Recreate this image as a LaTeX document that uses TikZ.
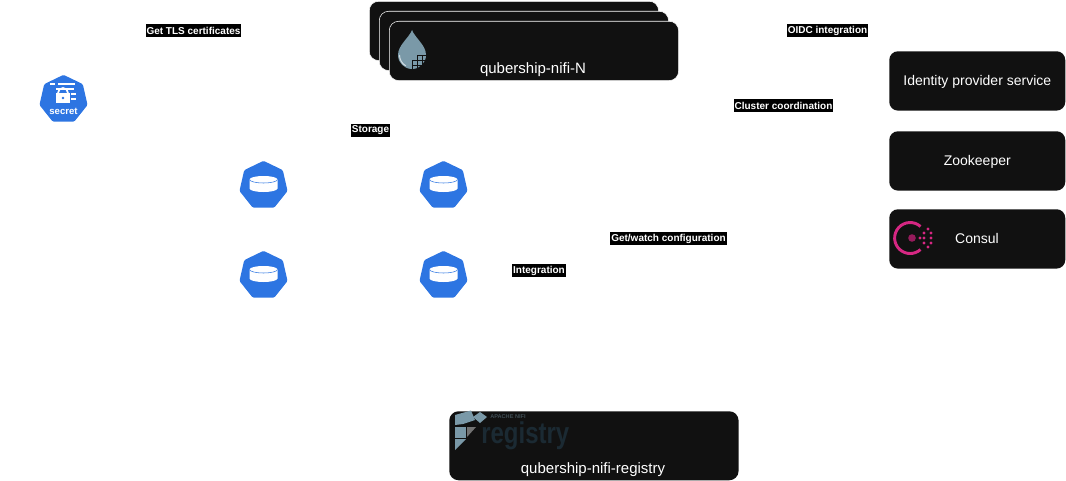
\documentclass[tikz,border=0pt]{standalone}
\usepackage{fontspec}
\setmainfont{Liberation Sans}
\usetikzlibrary{arrows.meta,calc,positioning,shapes.geometric}
\definecolor{boxdark}{HTML}{111111}
\definecolor{kubeblue}{HTML}{2D75E2}
\definecolor{nifiblue}{HTML}{7A99A8}
\definecolor{regdark}{HTML}{1B2A33}
\definecolor{consulpink}{HTML}{D62783}
\tikzset{
    serverbox/.style={draw=white,fill=boxdark,rounded corners=7pt,minimum width=217pt,minimum height=44.5pt,inner sep=0pt,anchor=north west},
    extbox/.style={fill=boxdark,rounded corners=6.5pt,minimum width=132pt,minimum height=44.5pt,inner sep=0pt,anchor=north west,text=white,text depth=0.5pt,font=\fontsize{10.5}{12}\selectfont},
    boxtitle/.style={text=white,inner sep=0pt,font=\fontsize{11.25}{13}\selectfont},
    edgelabel/.style={fill=black,text=white,inner xsep=0.75pt,inner ysep=0pt,minimum height=9.75pt,font=\bfseries\fontsize{7.5}{9}\selectfont},
    kubehept/.style={regular polygon,regular polygon sides=7,fill=kubeblue,minimum size=37pt,inner sep=0pt,rounded corners=1pt},
    pics/volume/.style={code={
        \fill[white] (-14,-6) -- (-14,3) arc[x radius=14,y radius=3.5,start angle=180,end angle=0] -- (14,-6)
            arc[x radius=14,y radius=3.5,start angle=0,end angle=-180] -- cycle;
        \draw[kubeblue,line width=0.4pt] (-14,-6) arc[x radius=14,y radius=3.5,start angle=180,end angle=0];
    }},
    pics/nifidrop/.style={code={
        \fill[nifiblue] (0,-17) .. controls (3,-9) and (14,-2) .. (14,8) arc[radius=14,start angle=0,end angle=180]
            .. controls (-14,-2) and (-3,-9) .. (0,-17) -- cycle;
        \draw[white!65!nifiblue,line width=0.8pt] (-12.5,8) arc[radius=12.5,start angle=180,end angle=120];
        \foreach \gx/\gy in {5/8,10/8,0/13,5/13,10/13,0/18,5/18} {
            \draw[boxdark,line width=0.7pt] (\gx,\gy) rectangle ++(5,5);
        }
    }},
}
\begin{document}
\begin{tikzpicture}[x=0.75pt,y=-0.75pt]
    % Page
    \useasboundingbox (0,0) rectangle (1066,481);
    % Stacked servers
    \node[serverbox] (nifiA) at (369,1) {};
    \node[serverbox] (nifiB) at (379,11) {};
    \node[serverbox] (nifiN) at (389,21) {};
    \pic at (412,47) {nifidrop};
    \node[boxtitle] (nifiNtitle) at (533,70) {qubership-nifi-N};
    % Registry
    \node[serverbox,draw=none,minimum height=51.75pt] (registry) at (449,411) {};
    \fill[nifiblue] (455,415) -- (471,410.5) -- (475,420) -- (463,424) -- (455,425) -- cycle;
    \fill[nifiblue] (473,417) -- (480,412) -- (487,417) -- (480,423) -- cycle;
    \fill[nifiblue] (455,427) rectangle (466,438);
    \fill[nifiblue] (455,439) -- (466,439) -- (455,450) -- cycle;
    \fill[black!55] (467,427) -- (476,427) -- (467,437) -- cycle;
    \node[text=nifiblue!45!boxdark,inner sep=0pt,anchor=west,font=\bfseries\fontsize{4.2}{5}\selectfont] (regsmall) at (490,417) {APACHE NIFI};
    \node[text=regdark,inner sep=0pt,anchor=base west,font=\bfseries\fontsize{22.5}{24}\selectfont] (regword) at (481,443) {\scalebox{0.8}[1]{registry}};
    \node[boxtitle] (registrytitle) at (593,470) {qubership-nifi-registry};
    % External services
    \node[extbox] (idp) at (889,51) {Identity provider service};
    \node[extbox] (zookeeper) at (889,131) {Zookeeper};
    \node[extbox] (consul) at (889,209) {};
    \node[extbox,fill=none,minimum width=0pt,minimum height=0pt,anchor=center] (consultitle) at (977,238.5) {Consul};
    \draw[consulpink,line width=2.2pt] (920.5,226.5) arc[radius=15.5,start angle=-48,end angle=-312];
    \fill[consulpink!70!black] (912,238) circle (3.8);
    \foreach \dx/\dy in {920/238,928/229,924/233,931/233,924/238,931/238,924/243,931/243,928/247} {
        \fill[consulpink] (\dx,\dy) circle (1.6);
    }
    % Secret
    \node[kubehept] (secret) at (63.5,99.5) {};
    \draw[white,line width=0.8pt] (50,84) -- (55,84) (58,84) -- (75,84) (56,89) -- (74,89) (71,94) -- (76,94) (71,99) -- (76,99);
    \draw[white,line width=1.3pt] (58,93) arc[radius=5,start angle=180,end angle=360];
    \fill[white] (56,93) rectangle (69.5,103);
    \fill[kubeblue] (63,98) circle (1.3);
    \node[text=white,inner sep=0pt,font=\bfseries\fontsize{7.2}{8}\selectfont] (secrettext) at (63.5,111.5) {secret};
    % Volumes
    \node[kubehept] (volA) at (263.5,185.5) {};
    \node[kubehept] (volB) at (443.5,185.5) {};
    \node[kubehept] (volC) at (263.5,275.5) {};
    \node[kubehept] (volD) at (443.5,275.5) {};
    \foreach \vol in {volA,volB,volC,volD} {
        \pic at (\vol) {volume};
    }
    % Labels
    \node[edgelabel] (tlslabel) at (193.5,30.5) {Get TLS certificates};
    \node[edgelabel] (oidclabel) at (827.5,30.5) {OIDC integration};
    \node[edgelabel] (clusterlabel) at (783.5,105.5) {Cluster coordination};
    \node[edgelabel] (storagelabel) at (370.5,130.5) {Storage};
    \node[edgelabel] (configlabel) at (668.5,238.5) {Get/watch configuration};
    \node[edgelabel] (integrationlabel) at (539,270.5) {Integration};
\end{tikzpicture}
\end{document}
